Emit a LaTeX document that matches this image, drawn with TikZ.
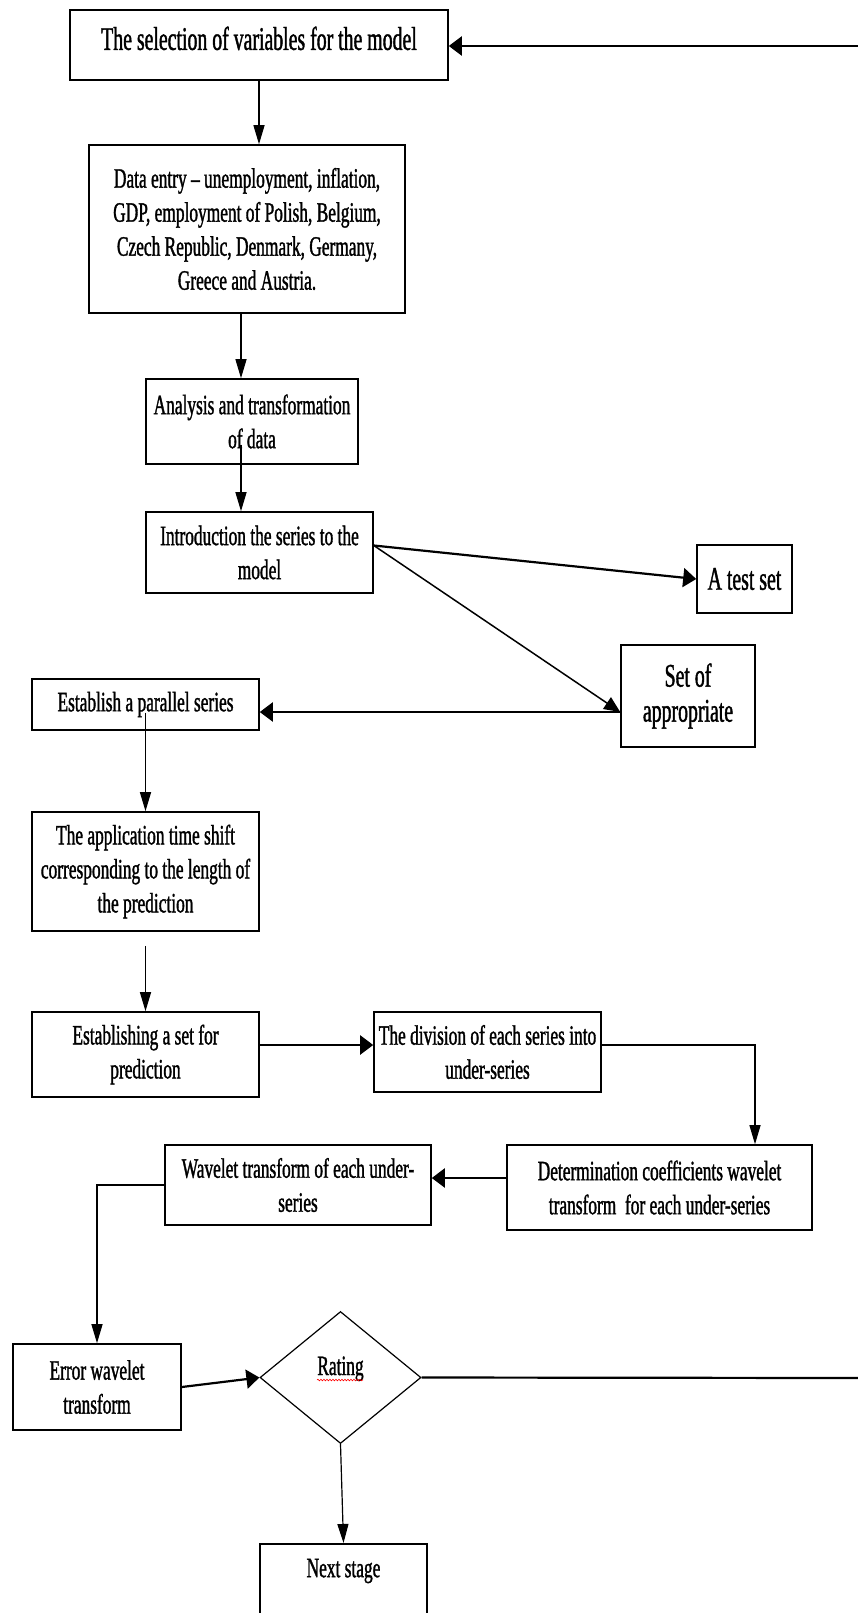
\documentclass[tikz,border=0pt]{standalone}
\usepackage{fontspec}
\usepackage{tikz}
\newfontfamily\flowfont[FakeStretch=0.62, FakeBold=1.2]{Liberation Serif}
\newfontfamily\flowfontbig[FakeStretch=0.6, FakeBold=1.2]{Liberation Serif}
\usetikzlibrary{arrows.meta, shapes.geometric, decorations.pathmorphing}
\tikzset{
  box/.style={draw, line width=1.6pt, align=center, inner sep=0pt,
    font=\flowfont\fontsize{28}{34}\selectfont},
  bigbox/.style={box, font=\flowfontbig\fontsize{33}{35}\selectfont},
  decision/.style={draw, diamond, line width=1.2pt, inner sep=0pt,
    font=\flowfont\fontsize{28}{34}\selectfont},
  vlink/.style={line width=1.2pt, -{Triangle[length=19pt,width=11pt]}},
  dlink/.style={line width=1.5pt, -{Triangle[length=16pt,width=14pt]}},
  hlink/.style={line width=2.2pt, -{Triangle[length=13pt,width=19pt]}},
}

\begin{document}
\begin{tikzpicture}[x=1pt, y=-1pt]

\path[use as bounding box, fill=white] (0,0) rectangle (858,1613);

% Boxes
\node[bigbox, minimum width=378pt, minimum height=70pt, text depth=13.5pt] (sel) at (259,45) {The selection of variables for the model};
\node[box, minimum width=316pt, minimum height=168pt] (data) at (247,229) {Data entry – unemployment, inflation,\\GDP, employment of Polish, Belgium,\\Czech Republic, Denmark, Germany,\\Greece and Austria.};
\node[box, minimum width=212pt, minimum height=85pt] (ana) at (252,421.5) {Analysis and transformation\\of data};
\node[box, minimum width=227pt, minimum height=81pt] (intro) at (259.5,552.5) {Introduction the series to the\\model};
\node[bigbox, minimum width=95pt, minimum height=68pt] (test) at (744.5,579) {A test set};
\node[bigbox, minimum width=134pt, minimum height=102pt] (set) at (688,696) {Set of\\appropriate};
\node[box, minimum width=227pt, minimum height=51pt] (par) at (145.5,704.5) {Establish a parallel series};
\node[box, minimum width=227pt, minimum height=119pt] (app) at (145.5,871.5) {The application time shift\\corresponding to the length of\\the prediction};
\node[box, minimum width=227pt, minimum height=85pt] (est) at (145.5,1054.5) {Establishing a set for\\prediction};
\node[box, minimum width=227pt, minimum height=80pt] (div) at (487.5,1052) {The division of each series into\\under-series};
\node[box, minimum width=305pt, minimum height=85pt] (det) at (659.5,1187.5) {Determination coefficients wavelet\\transform\ \ for each under-series};
\node[box, minimum width=266pt, minimum height=80pt] (wav) at (298,1185) {Wavelet transform of each under-\\series};
\node[box, minimum width=168pt, minimum height=86pt] (err) at (97,1387) {Error wavelet\\transform};
\node[decision, minimum width=161pt, minimum height=132pt, text depth=23.5pt] (rtg) at (340.5,1377.5) {Rating};
\node[box, anchor=north, minimum width=167pt, inner ysep=15pt, text depth=60pt] (nxt) at (343.5,1543) {Next stage};

% spell check mark
\draw[red, line width=0.6pt, decorate, decoration={snake, segment length=3pt, amplitude=0.8pt}] (317,1380) -- (363,1380);

% Connectors
\coordinate (back) at (858,46);
\draw[hlink] (back) -- (back -| sel.east);
\draw[vlink] (sel.south) -- (sel.south |- data.north);
\coordinate (d0) at ([xshift=-6pt]data.south);
\draw[vlink] (d0) -- (d0 |- ana.north);
\coordinate (a1) at ([xshift=-11pt,yshift=-23pt]ana.center);
\draw[vlink] (a1) -- (a1 |- intro.north);

\coordinate (fork) at ([yshift=7pt]intro.east);
\draw[hlink] (fork) -- (test.west);
\coordinate (sp) at ([yshift=-16pt]set.west);
\draw[dlink] (fork) -- (sp);
\draw[hlink] (sp) -- (sp -| par.east);

\coordinate (p1) at ([yshift=-8pt]par.center);
\draw[vlink] (p1) -- (app.north);
\coordinate (a2) at ([yshift=-14pt]app.south);
\draw[vlink] (a2) -- (est.north);
\coordinate (e1) at ([yshift=9.5pt]est.east);
\draw[hlink] (e1) -- (e1 -| div.west);
\coordinate (v1) at ([yshift=7pt]div.east);
\coordinate (v2) at ([xshift=95.5pt]det.north);
\draw[vlink] (v1) -| (v2);
\coordinate (t1) at ([yshift=9.5pt]det.west);
\draw[hlink] (t1) -- (t1 -| wav.east);
\draw[vlink] (wav.west) -| (err.north);
\draw[hlink] (err.east) -- (rtg.west);

\coordinate (out) at (858,1378);
\draw[line width=2.2pt] (rtg.east) -- (out);
\draw[vlink] (rtg.south) -- (nxt.north);

\end{tikzpicture}
\end{document}
